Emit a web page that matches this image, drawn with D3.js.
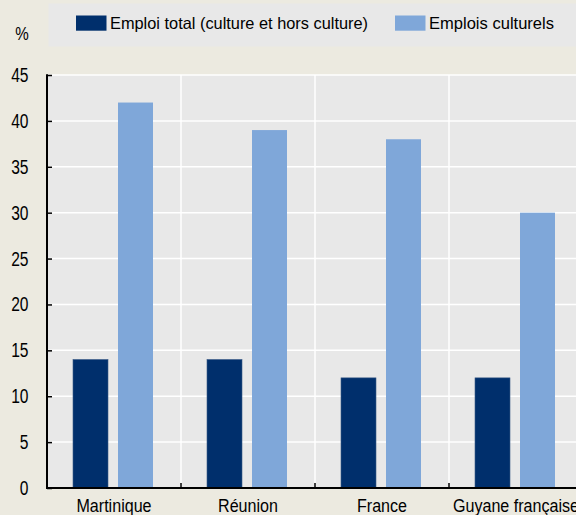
<!DOCTYPE html>
<html>
<head>
<meta charset="utf-8">
<script src="https://cdn.jsdelivr.net/npm/d3@7"></script>
<style>
  html, body { margin: 0; padding: 0; background: #ECEAE0; }
  svg { display: block; }
  text { font-family: "Liberation Sans", Arial, sans-serif; fill: #000; }
</style>
</head>
<body>
<svg id="chart" width="576" height="515"></svg>
<script>
// Part des femmes dans l'emploi, par territoire
const categories = ["Martinique", "Réunion", "France", "Guyane française"];
const seriesNames = ["Emploi total (culture et hors culture)", "Emplois culturels"];
const emploiTotal = [14, 14, 12, 12];
const emploisCulturels = [42, 39, 38, 30];
const yTicks = [0, 5, 10, 15, 20, 25, 30, 35, 40, 45];
const colors = ["#002F6C", "#7FA7D9"];

const svg = d3.select("#chart");
const W = 576, H = 515;
const plot = { left: 47, top: 75, bottom: 488, band: 134 };

const x = d3.scaleBand()
  .domain(categories)
  .range([plot.left, plot.left + plot.band * categories.length])
  .paddingInner(0).paddingOuter(0);

// two bars per category, 35px wide with a 10px gap
const inner = d3.scaleBand()
  .domain([0, 1])
  .range([26, 26 + 80])
  .paddingInner(10 / 45);

const y = d3.scaleLinear().domain([0, 45]).range([plot.bottom, plot.top]);

const plotRight = x.range()[1];

// condensed text: horizontal squeeze around the anchor point
function narrowText(sel, sx) {
  sel.attr("transform", function () {
    const tx = +this.getAttribute("x"), ty = +this.getAttribute("y");
    return `translate(${tx},${ty}) scale(${sx},1)`;
  }).attr("x", 0).attr("y", 0);
}

// plot background
svg.append("rect")
  .attr("x", plot.left).attr("y", plot.top)
  .attr("width", plotRight - plot.left).attr("height", plot.bottom - plot.top)
  .attr("fill", "#E8E8E8");

// horizontal gridlines
svg.append("g").selectAll("line")
  .data(yTicks.filter(d => d > 0))
  .join("line")
  .attr("x1", plot.left).attr("x2", plotRight)
  .attr("y1", d => y(d)).attr("y2", d => y(d))
  .attr("stroke", "#fff").attr("stroke-width", 1.5);

// vertical separators between categories
svg.append("g").selectAll("line")
  .data(categories.slice(1))
  .join("line")
  .attr("x1", d => x(d)).attr("x2", d => x(d))
  .attr("y1", plot.top).attr("y2", plot.bottom)
  .attr("stroke", "#fff").attr("stroke-width", 1.5);

// bars
const series = [emploiTotal, emploisCulturels];
series.forEach((vals, si) => {
  svg.append("g").selectAll("rect")
    .data(categories.map((c, i) => ({ c, v: vals[i] })))
    .join("rect")
    .attr("x", d => x(d.c) + inner(si))
    .attr("width", inner.bandwidth())
    .attr("y", d => y(d.v))
    .attr("height", d => y(0) - y(d.v))
    .attr("fill", colors[si])
    .attr("stroke", si === 0 ? "#3A5A88" : "none")
    .attr("stroke-width", 0.6);
});

// y axis: inward ticks
const yAxis = d3.axisRight(y).tickValues(yTicks).tickSize(5).tickFormat("");
const gy = svg.append("g").attr("transform", `translate(${plot.left},0)`).call(yAxis);
gy.select(".domain").remove();
gy.selectAll(".tick line").attr("stroke", "#000").attr("stroke-width", 1.5);
svg.append("line")
  .attr("x1", plot.left).attr("x2", plot.left)
  .attr("y1", plot.top - 0.75).attr("y2", plot.bottom)
  .attr("stroke", "#000").attr("stroke-width", 2);

svg.append("g").selectAll("text")
  .data(yTicks)
  .join("text")
  .attr("x", 28.5).attr("y", d => y(d) + 7)
  .attr("text-anchor", "end")
  .attr("font-size", 19.5)
  .text(d => d)
  .call(narrowText, 0.8);

// x axis with inward ticks at category boundaries
const xAxis = d3.axisBottom(x).tickSize(0).tickFormat("");
svg.append("g").attr("transform", `translate(0,${plot.bottom})`).call(xAxis).select(".domain").remove();
svg.append("g").selectAll("line")
  .data(categories.slice(1))
  .join("line")
  .attr("x1", d => x(d)).attr("x2", d => x(d))
  .attr("y1", plot.bottom - 5).attr("y2", plot.bottom)
  .attr("stroke", "#000").attr("stroke-width", 1.5);
svg.append("line")
  .attr("x1", plot.left - 1).attr("x2", plotRight)
  .attr("y1", plot.bottom).attr("y2", plot.bottom)
  .attr("stroke", "#000").attr("stroke-width", 2);

svg.append("g").selectAll("text")
  .data(categories)
  .join("text")
  .attr("x", d => x(d) + x.bandwidth() / 2)
  .attr("y", 511.5)
  .attr("text-anchor", "middle")
  .attr("font-size", 18.5)
  .text(d => d)
  .call(narrowText, 0.87);

// unit label
svg.append("text").attr("x", 22).attr("y", 39.5).attr("text-anchor", "middle")
  .attr("font-size", 19).text("%").call(narrowText, 0.8);

// legend
svg.append("rect").attr("x", 48.5).attr("y", 3.5).attr("width", W - 48.5).attr("height", 43)
  .attr("fill", "#E8E8E8");
const legendX = [76, 395];
const legendTextWidth = [258, 125];
seriesNames.forEach((name, i) => {
  svg.append("rect").attr("x", legendX[i]).attr("y", 15.5).attr("width", 30.5).attr("height", 15.2)
    .attr("fill", colors[i]);
  svg.append("text").attr("x", legendX[i] + 34).attr("y", 29)
    .attr("font-size", 16.5)
    .attr("textLength", legendTextWidth[i])
    .attr("lengthAdjust", "spacingAndGlyphs")
    .text(name);
});
</script>
</body>
</html>
